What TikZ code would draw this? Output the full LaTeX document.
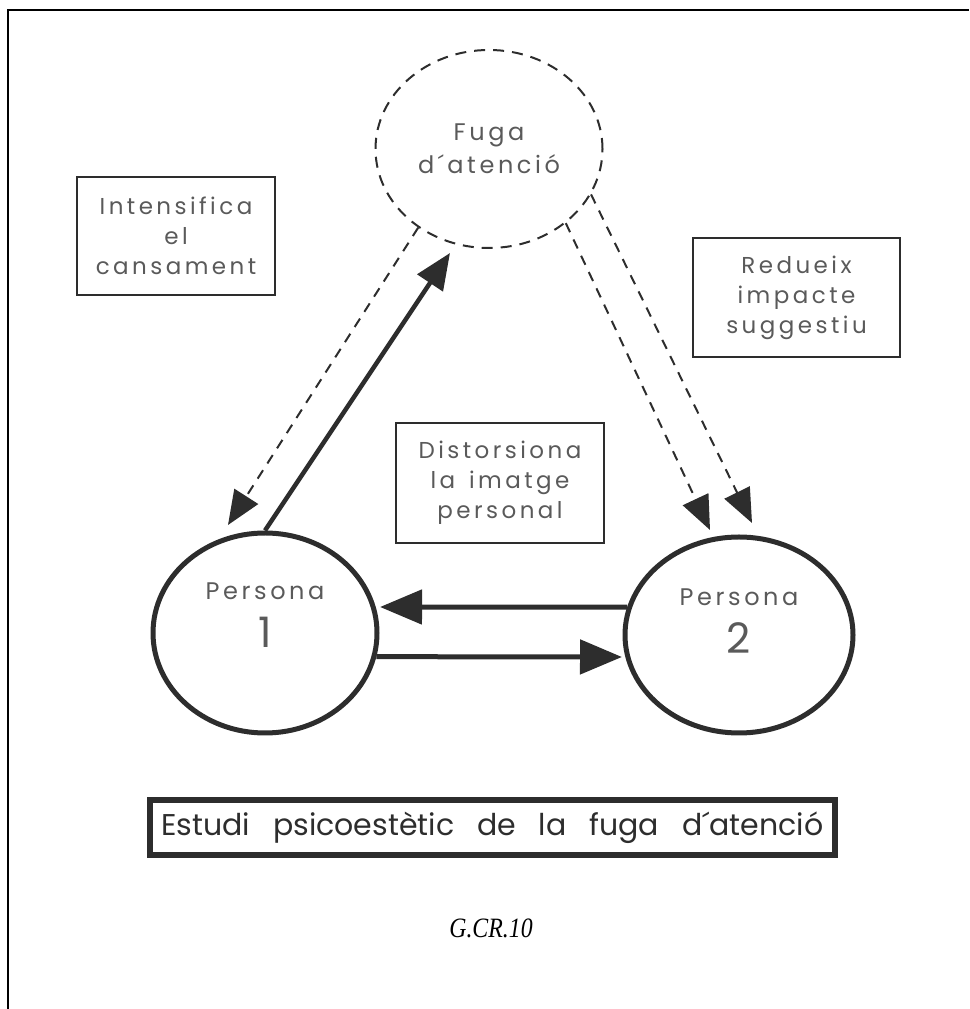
\documentclass[tikz,border=0pt]{standalone}
\usepackage{fontspec}
\usepackage{graphicx}
\setmainfont{Liberation Serif}
\newfontfamily\gfont[LetterSpace=15]{Poppins}
\newfontfamily\tfont{Poppins}
\usetikzlibrary{arrows.meta,shapes.geometric,calc}
\definecolor{ink}{RGB}{45,45,45}
\definecolor{txt}{RGB}{90,90,90}
\tikzset{
 person/.style={ellipse, draw=ink, line width=5pt, minimum width=224pt, minimum height=200pt, inner sep=0pt},
 fugabox/.style={ellipse, draw=ink, line width=2pt, dash pattern=on 11pt off 8pt, minimum width=227pt, minimum height=198pt, inner sep=0pt, text=txt, font=\gfont\fontsize{24}{33}\selectfont, align=center},
 labelbox/.style={rectangle, draw=ink, line width=2pt, inner sep=0pt, text=txt, font=\gfont\fontsize{23}{30}\selectfont, align=center},
 ptext/.style={text=txt, font=\gfont\fontsize{24}{48}\selectfont, align=center, inner sep=0pt},
 titlebox/.style={rectangle, draw=ink, line width=5.5pt, minimum width=685pt, minimum height=55pt, inner sep=0pt, text=ink, font=\tfont\fontsize{30}{30}\selectfont},
 bigarrow/.style={draw=ink, line width=5pt, -{Triangle[length=42pt,width=34pt]}},
 slimarrow/.style={draw=ink, line width=4.5pt, -{Triangle[length=36pt,width=30pt]}},
 dasharrow/.style={draw=ink, line width=2pt, dash pattern=on 10pt off 8pt, -{Triangle[length=34pt,width=28pt]}},
 pageframe/.style={draw=black, line width=2.5pt},
}
\begin{document}
\begin{tikzpicture}[x=1pt,y=1pt]
\useasboundingbox (0,0) rectangle (969,1009);
\draw[pageframe] (8,0) -- (8,999) -- (969,999);

\node[fugabox] (fuga) at (489,860) {Fuga\\d´atenció};
\node[person] (p1) at (265,376) {};
\node[person, minimum width=228pt, minimum height=196pt] (p2) at (739,374) {};
\node[ptext] (p1t) at ([yshift=18pt]p1.center) {Persona\\{\fontsize{42}{48}\selectfont 1}};
\node[ptext] (p2t) at ([yshift=14pt]p2.center) {Persona\\{\fontsize{42}{48}\selectfont 2}};

\node[labelbox, minimum width=198pt, minimum height=118pt] (b1) at (176,773) {Intensifica\\el\\cansament};
\node[labelbox, minimum width=207pt, minimum height=119pt] (b2) at (796.5,711.5) {Redueix\\impacte\\suggestiu};
\node[labelbox, minimum width=208pt, minimum height=120pt] (b3) at (500,526) {Distorsiona\\la\hspace{0.6em}imatge\\personal};
\node[titlebox] (title) at (492.5,181.5) {\makebox[662pt][s]{Estudi psicoestètic de la fuga d´atenció}};
\node[font=\fontsize{28}{28}\selectfont\itshape] (code) at (491,81) {\scalebox{0.85}[1]{G.CR.10}};

\coordinate (t1) at (228,484);
\coordinate (t2) at (450,756);
\coordinate (t3) at (710,479);
\coordinate (t4) at (752,486);
\coordinate (t5) at (380,402);
\coordinate (t6) at (622,352);

\draw[dasharrow] (fuga.228) -- (t1);
\draw[slimarrow] (p1.90) -- (t2);
\draw[dasharrow] (fuga.316) -- (t3);
\draw[dasharrow] (fuga.336) -- (t4);
\draw[bigarrow] (p2.166) -- (t5);
\draw[bigarrow] (p1.348) -- (t6);
\end{tikzpicture}
\end{document}
